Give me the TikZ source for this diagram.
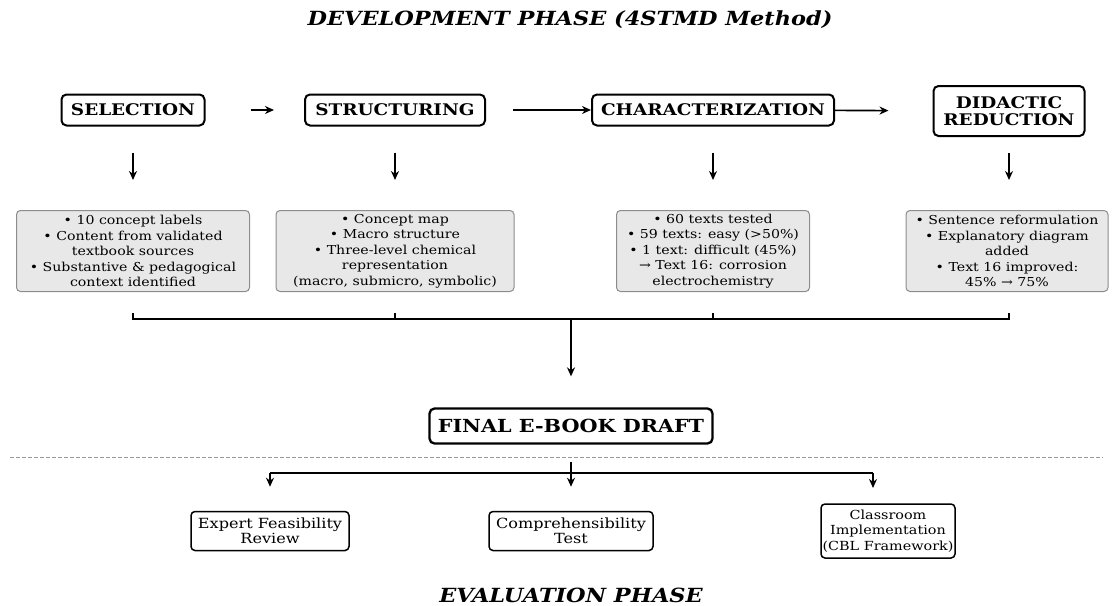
\documentclass[tikz,border=0pt]{standalone}
\usepackage{fontspec}
\setmainfont{DejaVu Serif}[FakeStretch=1.15]
\usetikzlibrary{arrows.meta}
\begin{document}
\begin{tikzpicture}[x=1pt,y=-1pt,
  arr/.style={-{Stealth[length=9pt,width=8pt]}, line width=1.6pt},
  phase/.style={font=\fontsize{19.5}{22}\selectfont\bfseries\itshape},
  stepbox/.style={draw, line width=2pt, rounded corners=5pt, align=center,
    font=\fontsize{16}{17}\selectfont\bfseries, inner sep=0pt},
  detbox/.style={draw=black!45, fill=black!9, line width=1pt, rounded corners=4pt,
    align=center, font=\fontsize{12.3}{15.5}\selectfont, inner sep=0pt},
  evbox/.style={draw, line width=1.5pt, rounded corners=4pt, align=center,
    font=\fontsize{14}{15.5}\selectfont, inner sep=0pt}]
\useasboundingbox (0,0) rectangle (1113,605);

\node[phase] (dev) at (570,20) {DEVELOPMENT PHASE (4STMD Method)};

\node[stepbox, minimum width=143pt, minimum height=31pt] (sel) at (133,110) {SELECTION};
\node[stepbox, minimum width=180pt, minimum height=31pt] (str) at (395,110) {STRUCTURING};
\node[stepbox, minimum width=242pt, minimum height=31pt] (cha) at (713,110) {CHARACTERIZATION};
\node[stepbox, minimum width=151pt, minimum height=50pt] (did) at (1009,111) {DIDACTIC\\REDUCTION};

\draw[arr, shorten <=45pt, shorten >=30pt] (sel) -- (str);
\draw[arr, shorten <=27pt] (str) -- (cha);
\draw[arr, shorten >=44pt] (cha) -- (did);

\node[detbox, minimum width=233pt, minimum height=81pt] (d1) at (133,251)
  {• 10 concept labels\\• Content from validated\\textbook sources\\• Substantive \& pedagogical\\context identified};
\node[detbox, minimum width=238pt, minimum height=81pt] (d2) at (395,251)
  {• Concept map\\• Macro structure\\• Three-level chemical\\representation\\(macro, submicro, symbolic)};
\node[detbox, minimum width=193pt, minimum height=81pt] (d3) at (713,251)
  {• 60 texts tested\\• 59 texts: easy (>50\%)\\• 1 text: difficult (45\%)\\→ Text 16: corrosion\\electrochemistry};
\node[detbox, minimum width=202pt, minimum height=81pt] (d4) at (1007,251)
  {• Sentence reformulation\\• Explanatory diagram\\added\\• Text 16 improved:\\45\% → 75\%};

\draw[arr, shorten <=26pt, shorten >=30pt] (sel) -- (sel |- d1.north);
\draw[arr, shorten <=26pt, shorten >=30pt] (str) -- (str |- d2.north);
\draw[arr, shorten <=26pt, shorten >=30pt] (cha) -- (cha |- d3.north);
\draw[arr, shorten <=16pt, shorten >=30pt] (did) -- (did |- d4.north);

\path (d1.south) ++(0,21) coordinate (t1) ++(0,6) coordinate (b1);
\path (d2.south) ++(0,21) coordinate (t2) ++(0,6) coordinate (b2);
\path (d3.south) ++(0,21) coordinate (t3) ++(0,6) coordinate (b3);
\path (did.south |- d4.south) ++(0,21) coordinate (t4) ++(0,6) coordinate (b4);
\draw[line width=1.3pt] (t1) -- (b1) -- (b4) -- (t4);
\draw[line width=1.3pt] (t2) -- (b2);
\draw[line width=1.3pt] (t3) -- (b3);

\node[stepbox, font=\fontsize{18}{21}\selectfont\bfseries, line width=2.3pt,
  minimum width=283pt, minimum height=35pt] (fin) at (571,426) {FINAL E-BOOK DRAFT};
\coordinate (bm) at (b1 -| fin);
\draw[arr, shorten >=31pt] (bm) -- (fin);

\coordinate (dl) at (10,457);
\coordinate (dr) at (1103,457);
\draw[black!40, dashed, line width=1pt, dash pattern=on 4pt off 2pt] (dl) -- (dr);

\node[evbox, minimum width=158pt, minimum height=39pt] (e1) at (270,531) {Expert Feasibility\\Review};
\node[evbox, minimum width=164pt, minimum height=39pt] (e2) at (571,531) {Comprehensibility\\Test};
\node[evbox, font=\fontsize{12.5}{15.5}\selectfont, minimum width=134pt, minimum height=54pt] (e3) at (888,531) {Classroom\\Implementation\\(CBL Framework)};

\coordinate (j) at (571,473);
\coordinate (h1) at (270,473);
\coordinate (h3) at (873,473);
\coordinate (h3e) at (873,488);
\draw[line width=1.3pt, shorten <=17pt] (fin) -- (j);
\draw[line width=1.3pt] (h1) -- (h3);
\draw[arr, shorten >=24pt] (h1) -- (e1);
\draw[arr, shorten >=24pt] (j) -- (e2);
\draw[arr] (h3) -- (h3e);

\node[phase] (eva) at (571,595) {EVALUATION PHASE};
\end{tikzpicture}
\end{document}
